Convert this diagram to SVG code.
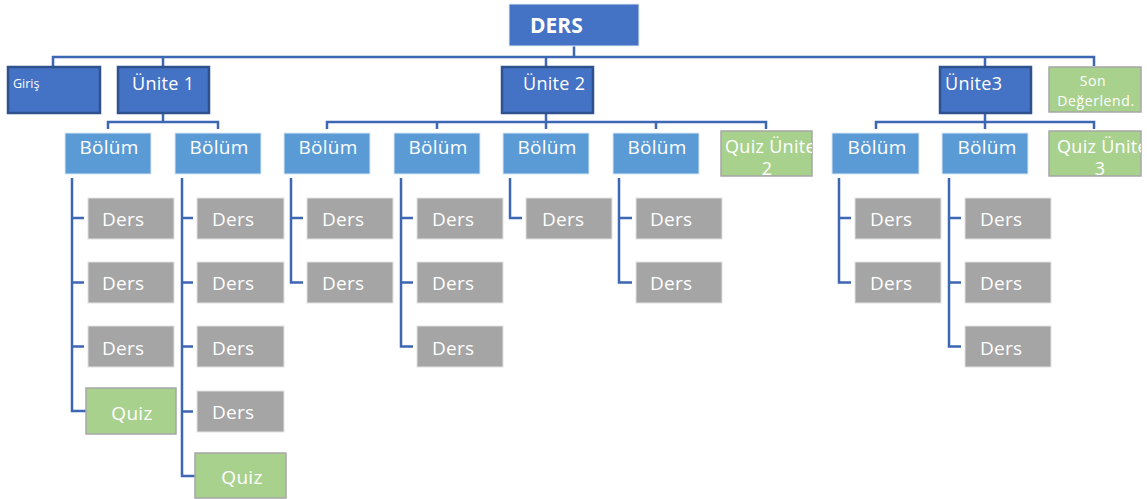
<svg xmlns="http://www.w3.org/2000/svg" width="1147" height="499" viewBox="0 0 1147 499">
<style>
.ln{fill:none;stroke:#3D66B3;stroke-width:2.5}
.top{fill:#4472C4;stroke:#E6ECF6;stroke-width:1}
.un{fill:#4472C4;stroke:#2F528F;stroke-width:2.5}
.bo{fill:#5B9BD5;stroke:#DCE8F5;stroke-width:1}
.de{fill:#A5A5A5;stroke:#E2E2E2;stroke-width:1}
.gr{fill:#A9D18E;stroke:#A6A6A6;stroke-width:1.5}
text{font-family:"Open Sans","Noto Sans",sans-serif;fill:#fff}
.t18{font-size:19px;letter-spacing:0.3px}
.tq{font-size:18px;letter-spacing:0.3px}
.tu{font-size:18px;letter-spacing:0.3px}
.t14{font-size:14px;letter-spacing:0.6px}
</style>
<defs>
<clipPath id="cq2"><rect x="721" y="131" width="91" height="45"/></clipPath>
<clipPath id="cq3"><rect x="1049" y="131" width="92" height="45"/></clipPath>
<clipPath id="cson"><rect x="1049" y="67" width="92" height="45"/></clipPath>
</defs>
<g id="connectors">
<path class="ln" d="M574 46V57M53 66V57H1094V66M163 57V66M546 57V66M985 57V66"/>
<path class="ln" d="M163 113V122M108 129V122H218V129"/>
<path class="ln" d="M546 113V122M327 129V122H766V129M437 122V129M546 122V129M656 122V129"/>
<path class="ln" d="M985 113V122M876 129V122H1094V129M985 122V129"/>
<path class="ln" d="M72 178V411H86M72 218H84M72 282.5H84M72 346.5H84"/>
<path class="ln" d="M182 178V476H195M182 218H193M182 282.5H193M182 346.5H193M182 411.5H193"/>
<path class="ln" d="M291 178V282.5H303M291 218H303"/>
<path class="ln" d="M401 178V346.5H413M401 218H413M401 282.5H413"/>
<path class="ln" d="M510 178V218H522"/>
<path class="ln" d="M619 178V282.5H632M619 218H632"/>
<path class="ln" d="M839 178V282.5H851M839 218H851"/>
<path class="ln" d="M949 178V346.5H961M949 218H961M949 282.5H961"/>
</g>
<g id="ders-root"><rect class="top" x="509" y="4" width="130" height="42"/><text x="530" y="33" font-size="21" font-weight="bold">DERS</text></g>
<g id="giris"><rect class="un" x="8" y="67" width="92" height="46"/><text x="13" y="88" font-size="12.5">Giriş</text></g>
<g id="unite1"><rect class="un" x="118" y="67" width="91" height="46"/><text class="tu" x="132" y="90">Ünite 1</text></g>
<g id="unite2"><rect class="un" x="502" y="67" width="91" height="46"/><text class="tu" x="523" y="90">Ünite 2</text></g>
<g id="unite3"><rect class="un" x="940" y="67" width="91" height="46"/><text class="tu" x="945" y="90">Ünite3</text></g>
<g id="son"><rect class="gr" x="1049" y="67" width="92" height="45"/><g clip-path="url(#cson)"><text class="t14" x="1093" y="86" text-anchor="middle">Son</text><text class="t14" x="1096" y="106" text-anchor="middle">Değerlend.</text></g></g>
<g id="bolum1"><rect class="bo" x="65" y="133" width="86" height="41"/><text class="t18" x="109" y="154" text-anchor="middle">Bölüm</text></g>
<g id="bolum2"><rect class="bo" x="175" y="133" width="86" height="41"/><text class="t18" x="219" y="154" text-anchor="middle">Bölüm</text></g>
<g id="bolum3"><rect class="bo" x="284" y="133" width="86" height="41"/><text class="t18" x="328" y="154" text-anchor="middle">Bölüm</text></g>
<g id="bolum4"><rect class="bo" x="394" y="133" width="86" height="41"/><text class="t18" x="438" y="154" text-anchor="middle">Bölüm</text></g>
<g id="bolum5"><rect class="bo" x="503" y="133" width="86" height="41"/><text class="t18" x="547" y="154" text-anchor="middle">Bölüm</text></g>
<g id="bolum6"><rect class="bo" x="613" y="133" width="86" height="41"/><text class="t18" x="657" y="154" text-anchor="middle">Bölüm</text></g>
<g id="quiz-unite2"><rect class="gr" x="721" y="131" width="91" height="45"/><g clip-path="url(#cq2)"><text class="tq" x="725" y="153">Quiz Ünite</text><text class="tq" x="767" y="175" text-anchor="middle">2</text></g></g>
<g id="bolum7"><rect class="bo" x="832" y="133" width="87" height="41"/><text class="t18" x="877" y="154" text-anchor="middle">Bölüm</text></g>
<g id="bolum8"><rect class="bo" x="942" y="133" width="86" height="41"/><text class="t18" x="987" y="154" text-anchor="middle">Bölüm</text></g>
<g id="quiz-unite3"><rect class="gr" x="1049" y="131" width="92" height="45"/><g clip-path="url(#cq3)"><text class="tq" x="1057" y="153">Quiz Ünite</text><text class="tq" x="1100" y="175" text-anchor="middle">3</text></g></g>
<g id="c1-d1"><rect class="de" x="88" y="198" width="86" height="41"/><text class="t18" x="102" y="226">Ders</text></g>
<g id="c1-d2"><rect class="de" x="88" y="262" width="86" height="41"/><text class="t18" x="102" y="290">Ders</text></g>
<g id="c1-d3"><rect class="de" x="88" y="326" width="86" height="41"/><text class="t18" x="102" y="355">Ders</text></g>
<g id="c1-quiz"><rect class="gr" x="86" y="388" width="90" height="46"/><text class="t18" x="132" y="420" text-anchor="middle">Quiz</text></g>
<g id="c2-d1"><rect class="de" x="197" y="198" width="87" height="41"/><text class="t18" x="212" y="226">Ders</text></g>
<g id="c2-d2"><rect class="de" x="197" y="262" width="87" height="41"/><text class="t18" x="212" y="290">Ders</text></g>
<g id="c2-d3"><rect class="de" x="197" y="326" width="87" height="41"/><text class="t18" x="212" y="355">Ders</text></g>
<g id="c2-d4"><rect class="de" x="197" y="391" width="87" height="41"/><text class="t18" x="212" y="419">Ders</text></g>
<g id="c2-quiz"><rect class="gr" x="195" y="453" width="91" height="45"/><text class="t18" x="242" y="484" text-anchor="middle">Quiz</text></g>
<g id="c3-d1"><rect class="de" x="307" y="198" width="86" height="41"/><text class="t18" x="322" y="226">Ders</text></g>
<g id="c3-d2"><rect class="de" x="307" y="262" width="86" height="41"/><text class="t18" x="322" y="290">Ders</text></g>
<g id="c4-d1"><rect class="de" x="417" y="198" width="86" height="41"/><text class="t18" x="432" y="226">Ders</text></g>
<g id="c4-d2"><rect class="de" x="417" y="262" width="86" height="41"/><text class="t18" x="432" y="290">Ders</text></g>
<g id="c4-d3"><rect class="de" x="417" y="326" width="86" height="41"/><text class="t18" x="432" y="355">Ders</text></g>
<g id="c5-d1"><rect class="de" x="526" y="198" width="86" height="41"/><text class="t18" x="542" y="226">Ders</text></g>
<g id="c6-d1"><rect class="de" x="636" y="198" width="86" height="41"/><text class="t18" x="650" y="226">Ders</text></g>
<g id="c6-d2"><rect class="de" x="636" y="262" width="86" height="41"/><text class="t18" x="650" y="290">Ders</text></g>
<g id="c7-d1"><rect class="de" x="855" y="198" width="86" height="41"/><text class="t18" x="870" y="226">Ders</text></g>
<g id="c7-d2"><rect class="de" x="855" y="262" width="86" height="41"/><text class="t18" x="870" y="290">Ders</text></g>
<g id="c8-d1"><rect class="de" x="965" y="198" width="86" height="41"/><text class="t18" x="980" y="226">Ders</text></g>
<g id="c8-d2"><rect class="de" x="965" y="262" width="86" height="41"/><text class="t18" x="980" y="290">Ders</text></g>
<g id="c8-d3"><rect class="de" x="965" y="326" width="86" height="41"/><text class="t18" x="980" y="355">Ders</text></g>
</svg>
